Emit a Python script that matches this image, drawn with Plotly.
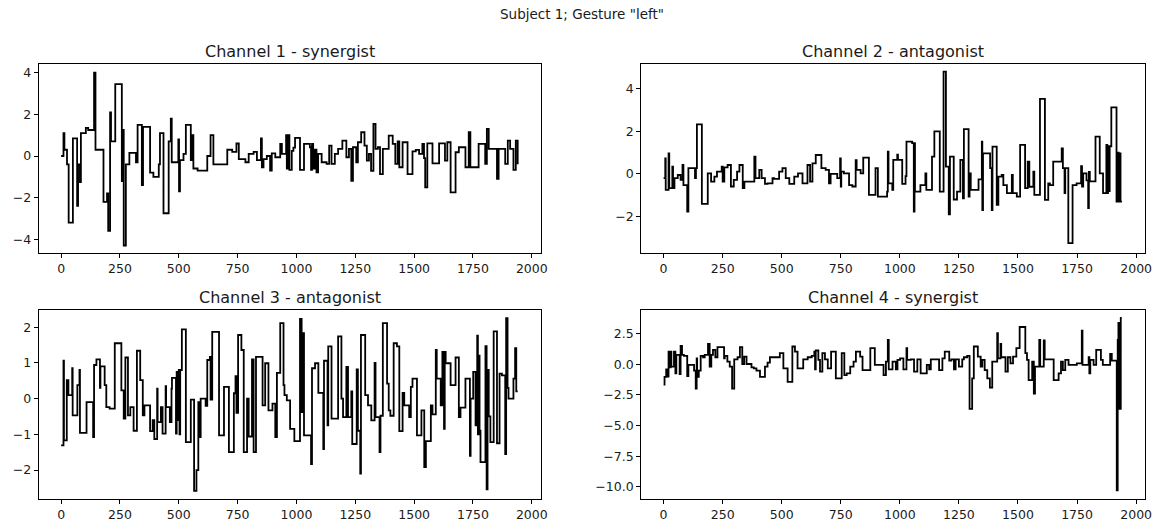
import plotly.graph_objects as go

# ---------------- data (step segments: start sample, value) ----------------
ch1_start = [0, 10, 14, 25, 32, 50, 68, 72, 80, 84, 105, 115, 140, 146, 180, 195, 200, 208, 212, 230,
             258, 262, 266, 275, 290, 318, 325, 343, 348, 378, 392, 415, 420, 435, 457, 466, 470, 498, 501, 505,
             520, 530, 551, 558, 562, 580, 621, 635, 647, 706, 727, 745, 755, 783, 797, 818, 832, 849, 853, 860,
             874, 888, 895, 910, 931, 938, 956, 959, 966, 970, 980, 987, 994, 1015, 1032, 1057, 1062, 1066, 1071, 1078,
             1085, 1092, 1107, 1128, 1139, 1149, 1163, 1177, 1195, 1212, 1223, 1233, 1240, 1254, 1261, 1275, 1289, 1299, 1308, 1317,
             1327, 1336, 1346, 1355, 1367, 1392, 1409, 1420, 1430, 1437, 1451, 1472, 1493, 1507, 1521, 1535, 1542, 1547, 1556, 1578,
             1606, 1631, 1641, 1655, 1676, 1690, 1718, 1732, 1739, 1774, 1802, 1809, 1817, 1852, 1859, 1887, 1898, 1908, 1922, 1932,
             1940]
ch1_val = [0.0, 1.1, 0.3, -0.4, -3.2, 0.85, -2.4, -0.4, -1.25, 1.1, 1.35, 1.25, 4.0, 0.3, -2.2, -1.8, -3.6, 2.1, 0.7, 3.45,
           -1.2, 1.25, -4.3, -0.4, 0.15, -0.3, 1.5, -1.4, 1.4, -0.8, -1.0, -0.4, 1.1, -2.75, 0.7, 1.8, -0.3, 0.8, -1.7, -0.2,
           0.1, 1.5, -0.2, 1.0, -0.6, -0.7, 0.0, 1.0, -0.4, 0.3, 0.2, 0.6, -0.15, -0.3, 0.1, 0.2, -0.2, 0.85, -0.55, -0.15,
           0.0, -0.7, 0.13, -0.06, 0.58, 0.1, 1.0, -0.6, 1.0, -0.67, 0.25, 0.4, 0.87, -0.67, 0.58, 0.42, -0.67, 0.58, -0.6, 0.3,
           -0.79, 0.1, -0.3, -0.38, 0.5, -0.38, 0.1, 0.34, 0.74, -0.06, 0.34, -1.19, 0.42, -0.3, 0.66, 1.14, 0.5, -0.22, 0.1, -0.71,
           1.54, 0.34, 0.42, -0.87, 0.34, 0.98, 0.58, -0.38, 0.7, -0.54, 0.66, -0.87, 0.22, 0.29, 0.1, 0.58, -0.1, -1.51, 0.61, -0.35,
           0.61, -0.22, 0.66, -1.75, 0.18, 0.42, -0.54, 1.14, -0.54, 0.58, -0.38, 1.3, 0.34, -1.1, 0.34, -0.38, 0.74, 0.34, -0.67, 0.74,
           -0.35]
ch1_end = 1944

ch2_start = [0, 7, 9, 21, 24, 37, 40, 46, 60, 72, 80, 84, 100, 105, 133, 137, 141, 162, 187, 201,
             215, 226, 246, 250, 257, 271, 285, 297, 311, 321, 335, 342, 384, 389, 405, 415, 429, 440, 461, 468,
             489, 503, 517, 532, 553, 569, 588, 609, 620, 630, 644, 668, 686, 700, 707, 735, 747, 750, 752, 763,
             785, 799, 813, 817, 834, 845, 869, 897, 907, 946, 949, 952, 968, 972, 989, 992, 1010, 1024, 1028, 1052,
             1059, 1062, 1064, 1087, 1108, 1112, 1136, 1146, 1169, 1185, 1195, 1207, 1212, 1228, 1242, 1256, 1267, 1271, 1291, 1295,
             1300, 1333, 1347, 1349, 1352, 1382, 1389, 1392, 1410, 1417, 1431, 1438, 1453, 1474, 1478, 1495, 1509, 1530, 1541, 1548,
             1565, 1569, 1593, 1614, 1628, 1635, 1649, 1685, 1690, 1697, 1700, 1713, 1731, 1748, 1767, 1771, 1776, 1790, 1797, 1800,
             1804, 1828, 1846, 1860, 1874, 1878, 1881, 1884, 1888, 1895, 1917, 1922, 1926, 1930, 1934]
ch2_val = [-0.2, 0.73, -0.75, 0.97, -0.67, 0.34, -0.67, -0.2, -0.05, -0.28, 0.42, -0.52, -1.77, 0.27, -0.2, 0.27, 2.33, -1.4, 0.03, -0.36,
           -0.13, 0.11, 0.34, -0.36, 0.31, 0.42, -0.59, -0.28, 0.11, 0.42, -0.67, -0.36, 0.81, -0.2, 0.19, -0.2, -0.47, -0.44, -0.2, -0.23,
           0.11, 0.27, -0.2, -0.47, -0.13, 0.03, -0.44, 0.42, -0.36, 0.5, 0.89, 0.27, 0.19, -0.44, 0.0, -0.2, 0.73, -0.59, 0.11, 0.03,
           -0.52, -0.59, 0.65, 0.19, 0.03, 0.77, -0.98, 0.27, -1.06, -0.83, 1.05, -0.44, -0.75, 0.66, 0.9, 0.66, -0.47, -0.1, 1.52, 1.45,
           -1.77, 1.45, -0.83, -0.52, 0.03, -0.75, 0.81, 2.0, -0.83, 4.8, 0.34, -1.9, 0.81, -1.2, -0.83, 0.66, -1.14, 2.1, -1.06, 0.03,
           -0.75, -0.25, 1.52, -1.7, 0.97, 0.27, -1.7, 1.28, -1.45, -0.13, -0.05, -0.52, -0.9, -0.05, -0.9, -1.06, 1.36, -0.67, 0.58, -0.6,
           0.11, -0.98, 3.52, -1.22, -0.44, -0.52, 0.58, 1.2, 0.27, -0.9, 0.27, -3.25, -0.52, -0.44, 0.37, -0.59, 0.03, -0.3, -1.6, 0.1,
           -0.35, 1.75, 0.03, -0.9, 1.36, -0.9, 1.3, -0.8, 1.3, 3.12, -1.3, 1.0, -1.3, 0.97, -1.3]
ch2_end = 1940

ch3_start = [0, 10, 12, 24, 31, 47, 49, 69, 78, 80, 108, 136, 140, 150, 165, 167, 185, 192, 206, 228,
             256, 266, 273, 284, 294, 308, 322, 336, 347, 354, 378, 389, 396, 408, 410, 424, 431, 444, 446, 462,
             469, 471, 488, 491, 495, 500, 503, 506, 513, 530, 551, 565, 575, 583, 586, 593, 614, 621, 632, 635,
             642, 671, 692, 713, 734, 741, 745, 752, 766, 776, 790, 797, 811, 818, 828, 856, 867, 881, 898, 910,
             917, 931, 945, 949, 959, 973, 991, 1015, 1022, 1029, 1032, 1062, 1066, 1079, 1093, 1114, 1117, 1132, 1135, 1149,
             1177, 1191, 1198, 1212, 1219, 1233, 1237, 1256, 1261, 1271, 1274, 1292, 1304, 1318, 1332, 1336, 1353, 1357, 1367, 1385,
             1392, 1399, 1413, 1427, 1437, 1451, 1458, 1479, 1486, 1493, 1512, 1531, 1543, 1550, 1571, 1578, 1592, 1596, 1613, 1620,
             1627, 1630, 1634, 1655, 1676, 1690, 1697, 1718, 1737, 1740, 1751, 1761, 1768, 1771, 1775, 1778, 1782, 1803, 1808, 1812,
             1817, 1824, 1838, 1852, 1863, 1873, 1887, 1891, 1897, 1901, 1922, 1929, 1934]
ch3_val = [-1.31, 1.06, -1.17, 0.52, 0.1, 0.85, -0.47, 0.38, 0.8, -0.96, -0.1, -1.08, 0.94, 1.1, 0.3, 0.9, 0.38, -0.24, -0.28, 1.55,
           0.23, -0.56, 1.15, -0.47, -0.24, -0.9, 1.34, 0.52, -0.47, -0.19, -0.91, -0.6, -1.13, 0.28, -0.66, -0.24, -0.98, 0.35, -0.24, -0.66,
           0.28, 0.58, -0.98, 0.75, -0.6, 0.8, -1.0, 0.8, 1.94, -1.22, -0.03, -2.58, -2.0, -0.1, -1.08, 0.0, -0.2, 1.08, 1.17, -0.03,
           1.87, -1.03, 0.33, -1.5, 0.15, 0.63, -0.4, 1.78, 1.36, -1.5, 0.0, -1.06, 1.1, -1.5, 1.17, -0.19, 0.99, -0.33, -0.14, -1.08,
           0.72, 2.11, 0.38, 0.1, -0.05, -0.85, -1.19, 2.23, -0.38, 1.83, -1.03, -1.83, 0.85, 0.99, 0.16, -1.41, 1.06, -0.75, 1.46, -0.56,
           1.74, 0.0, -0.52, 0.89, -0.52, 0.2, -1.27, 0.82, -0.9, -2.1, 1.78, 0.1, -0.19, -0.61, 1.0, -0.52, -1.5, -0.48, 2.11, 0.42,
           -0.33, -0.48, 1.55, 1.46, -0.91, 0.16, -0.19, -0.52, 0.33, 0.56, -1.03, -0.33, -1.92, -1.19, -0.19, -0.44, 1.36, 0.56, -0.19, 1.31,
           -0.85, 1.31, 0.99, 0.38, 1.15, -0.52, -0.25, 0.56, -1.6, 0.0, 0.75, -0.75, 1.76, -1.0, 1.2, -0.9, -1.78, 1.47, -2.54, 0.8,
           -0.5, -1.22, 1.88, -1.25, 0.7, 0.65, -1.55, 2.25, 0.3, 0.0, 0.56, 1.41, 0.2]
ch3_end = 1940

ch4_start = [0, 4, 11, 18, 21, 26, 30, 33, 44, 50, 54, 68, 72, 78, 86, 100, 105, 129, 136, 140,
             142, 149, 157, 167, 174, 188, 195, 202, 209, 219, 228, 256, 259, 270, 280, 290, 299, 313, 323, 333,
             341, 351, 372, 382, 393, 408, 429, 440, 450, 492, 507, 525, 545, 556, 567, 591, 610, 627, 638, 641,
             644, 655, 662, 672, 683, 695, 709, 729, 754, 765, 775, 790, 804, 814, 832, 842, 875, 894, 931, 941,
             949, 953, 969, 983, 990, 1001, 1015, 1028, 1031, 1046, 1060, 1074, 1088, 1114, 1124, 1131, 1166, 1180, 1190, 1209,
             1218, 1229, 1236, 1250, 1264, 1271, 1285, 1295, 1306, 1313, 1330, 1342, 1349, 1359, 1370, 1381, 1391, 1412, 1415, 1426,
             1429, 1447, 1457, 1468, 1479, 1493, 1507, 1531, 1538, 1545, 1560, 1567, 1572, 1590, 1594, 1609, 1613, 1651, 1672, 1682,
             1690, 1700, 1714, 1749, 1770, 1773, 1799, 1802, 1806, 1820, 1831, 1851, 1859, 1890, 1897, 1918, 1922, 1925, 1929, 1935]
ch4_val = [-1.65, -1.02, -0.41, -1.0, 1.04, -0.25, 1.04, -0.19, 1.04, -0.74, 0.77, -0.8, 1.51, 0.77, 0.69, -0.96, -0.05, -0.52, -1.98, 0.49,
           -1.02, -0.52, 0.69, 0.58, 0.77, 1.68, -0.19, 0.77, 1.18, 0.58, 1.4, 0.49, 0.69, 0.22, -0.19, -1.98, 0.41, 0.58, 1.4, 0.03,
           0.63, 0.03, -0.25, -0.33, -0.52, -1.02, -0.19, 0.14, 0.58, 0.91, -0.33, -1.43, 1.46, 1.04, -0.33, 0.41, 0.58, 0.69, 1.04, -0.41,
           1.13, 0.36, -0.6, 0.91, 0.41, -0.33, 1.04, -1.15, 0.91, -0.88, -0.74, -0.19, 0.22, 1.04, 0.63, -0.47, 1.32, -0.05, -0.88, 0.22,
           2.0, -0.41, 0.22, -0.41, 0.36, 0.49, -0.41, 1.32, 0.36, 0.41, -0.6, 0.41, -0.74, -0.05, -0.41, 0.41, -0.47, 0.49, 1.04, 0.3,
           0.41, -0.41, 0.41, -0.19, 0.41, 0.58, 0.69, -3.63, -1.15, 1.46, 0.63, -0.19, 0.36, -0.47, -1.15, -1.9, 0.22, 2.55, 0.49, 1.68,
           0.58, -0.6, 0.58, 0.08, 0.63, 1.32, 3.05, 0.91, 0.36, -1.29, 0.22, -2.39, -0.19, 2.0, -0.19, 1.95, 0.41, -1.29, -0.74, 0.22,
           -0.47, 0.36, -0.05, 0.08, 2.75, -0.05, 0.58, -0.74, 0.36, -0.05, 1.18, 0.36, -0.05, 0.85, 0.3, -10.3, 2.0, 3.38, -3.63, 3.8]
ch4_end = 1939

titles = ["Channel 1 - synergist", "Channel 2 - antagonist", "Channel 3 - antagonist", "Channel 4 - synergist"]
suptitle = 'Subject 1; Gesture "left"'
x_ticks = [0, 250, 500, 750, 1000, 1250, 1500, 1750, 2000]
y_ticks = [[-4, -2, 0, 2, 4], [-2, 0, 2, 4], [-2, -1, 0, 1, 2], [-10.0, -7.5, -5.0, -2.5, 0.0, 2.5]]

# ---------------- layout geometry ----------------
W, H = 1170, 527
xdoms = [[39 / W, 544 / W], [645 / W, 1152 / W]]
ydoms = [[1 - 253 / H, 1 - 64 / H], [1 - 499 / H, 1 - 310 / H]]
yranges = [[-4.66, 4.42], [-3.71, 5.16], [-2.81, 2.48], [-11.0, 4.44]]
xrange_ = [-95, 2038]

series = [(ch1_start, ch1_val, ch1_end), (ch2_start, ch2_val, ch2_end),
          (ch3_start, ch3_val, ch3_end), (ch4_start, ch4_val, ch4_end)]

FONT = "DejaVu Sans"
TXT = "#1a1a1a"
fig = go.Figure()
layout = dict(
    width=W, height=H, margin=dict(l=0, r=0, t=0, b=0),
    paper_bgcolor="white", plot_bgcolor="white", showlegend=False,
    font=dict(family=FONT, color=TXT, size=12),
)
annotations = []
for i, (xs, ys, xend) in enumerate(series):
    r, c = divmod(i, 2)
    ax = "" if i == 0 else str(i + 1)
    X = list(xs) + [xend]
    Y = list(ys) + [ys[-1]]
    fig.add_trace(go.Scatter(x=X, y=Y, mode="lines", line=dict(color="black", width=1.8, shape="hv"),
                             xaxis="x" + ax, yaxis="y" + ax, hoverinfo="skip"))
    common = dict(showline=True, mirror=True, linecolor="#000000", linewidth=1, ticks="outside",
                  ticklen=4, tickwidth=1, tickcolor="#000000", showgrid=False, zeroline=False,
                  tickfont=dict(family=FONT, size=12.5, color=TXT))
    layout["xaxis" + ax] = dict(domain=xdoms[c], range=xrange_, anchor="y" + ax,
                                tickvals=x_ticks, ticktext=[str(t) for t in x_ticks], **common)
    yt = y_ticks[i]
    if i == 3:
        ytext = [("\u2212" if v < 0 else "") + f"{abs(v):.1f}" for v in yt]
    else:
        ytext = [("\u2212" if v < 0 else "") + f"{abs(v):g}" for v in yt]
    layout["yaxis" + ax] = dict(domain=ydoms[r], range=yranges[i], anchor="x" + ax,
                                tickvals=yt, ticktext=ytext, **common)
    annotations.append(dict(text=titles[i], xref="paper", yref="paper",
                            x=(xdoms[c][0] + xdoms[c][1]) / 2, y=ydoms[r][1],
                            yshift=13, xanchor="center", yanchor="middle", showarrow=False,
                            font=dict(family=FONT, size=16, color=TXT)))
annotations.append(dict(text=suptitle, xref="paper", yref="paper", x=0.5, y=1 - 14 / H,
                        xanchor="center", yanchor="middle", showarrow=False,
                        font=dict(family=FONT, size=13.5, color=TXT)))
layout["annotations"] = annotations
fig.update_layout(**layout)
fig.write_html("out.html")
